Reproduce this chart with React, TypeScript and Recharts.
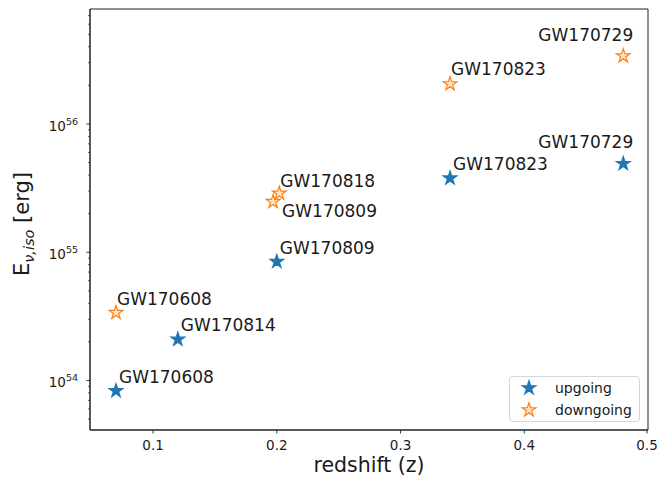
import React from 'react';
import { ScatterChart, Scatter, XAxis, YAxis, ReferenceArea } from 'recharts';

const FONT = '"DejaVu Sans", sans-serif';
const BLUE = '#1f77b4';
const ORANGE = '#ff7f0e';
const ORANGE_FILL = '#ffe3cc';

// upgoing events
const upgoingNames = ['GW170608', 'GW170814', 'GW170809', 'GW170823', 'GW170729'];
const upgoingZ = [0.07, 0.12, 0.2, 0.34, 0.48];
const upgoingE = [8.3e53, 2.09e54, 8.45e54, 3.78e55, 4.9e55];

// downgoing events
const downgoingNames = ['GW170608', 'GW170809', 'GW170818', 'GW170823', 'GW170729'];
const downgoingZ = [0.07, 0.197, 0.202, 0.34, 0.48];
const downgoingE = [3.38e54, 2.48e55, 2.88e55, 2.05e56, 3.39e56];

const xTicks = [0.1, 0.2, 0.3, 0.4, 0.5];
const yMajorTicks = [1e54, 1e55, 1e56];
const yMinorTicks = [
  5e53, 6e53, 7e53, 8e53, 9e53,
  2e54, 3e54, 4e54, 5e54, 6e54, 7e54, 8e54, 9e54,
  2e55, 3e55, 4e55, 5e55, 6e55, 7e55, 8e55, 9e55,
  2e56, 3e56, 4e56, 5e56, 6e56, 7e56,
];

const X_DOMAIN: [number, number] = [0.049, 0.5];
const Y_DOMAIN: [number, number] = [4.11e53, 7.88e56];

const upgoing = upgoingNames.map((name, i) => ({ name, z: upgoingZ[i], e: upgoingE[i] }));
const downgoing = downgoingNames.map((name, i) => ({ name, z: downgoingZ[i], e: downgoingE[i] }));

// annotation placement relative to the marker (baseline)
const labelLayout: Record<string, { dx: number; dy: number; anchor?: 'start' | 'end' }> = {
  'up-GW170729': { dx: 10, dy: -16, anchor: 'end' },
  'down-GW170729': { dx: 10, dy: -15, anchor: 'end' },
  'down-GW170809': { dx: 9, dy: 15 },
  'down-GW170818': { dx: 1, dy: -6 },
  'down-GW170823': { dx: 1, dy: -9 },
  'down-GW170608': { dx: 1, dy: -8 },
};

const starPoints = (cx: number, cy: number, r: number) => {
  const inner = r * 0.382;
  const pts: string[] = [];
  for (let i = 0; i < 10; i++) {
    const rr = i % 2 === 0 ? r : inner;
    const a = -Math.PI / 2 + (i * Math.PI) / 5;
    pts.push(`${(cx + rr * Math.cos(a)).toFixed(2)},${(cy + rr * Math.sin(a)).toFixed(2)}`);
  }
  return pts.join(' ');
};

const makeStar = (series: 'up' | 'down') => (props: any) => {
  const { cx, cy, payload } = props;
  const lay = labelLayout[`${series}-${payload.name}`] || { dx: 3, dy: -8 };
  return (
    <g>
      <polygon
        points={starPoints(cx, cy, 7.2)}
        fill={series === 'up' ? BLUE : ORANGE_FILL}
        stroke={series === 'up' ? BLUE : ORANGE}
        strokeWidth={1.2}
      />
      <text
        x={cx + lay.dx}
        y={cy + lay.dy}
        textAnchor={lay.anchor || 'start'}
        fontFamily={FONT}
        fontSize={17}
        fill="#1a1a1a"
      >
        {payload.name}
      </text>
    </g>
  );
};

const XTick = (props: any) => {
  const { x, y, payload } = props;
  return (
    <g>
      <line x1={x} x2={x} y1={y} y2={y + 3.5} stroke="#222" strokeWidth={0.9} />
      <text x={x} y={y + 20} textAnchor="middle" fontFamily={FONT} fontSize={13.5} fill="#1a1a1a">
        {payload.value}
      </text>
    </g>
  );
};

const YTick = (props: any) => {
  const { x, y, payload } = props;
  const v = payload.value;
  const isMajor = yMajorTicks.includes(v);
  if (!isMajor) {
    return <line x1={x - 2} x2={x} y1={y} y2={y} stroke="#222" strokeWidth={0.7} />;
  }
  const exp = Math.round(Math.log10(v));
  return (
    <g>
      <line x1={x - 3.5} x2={x} y1={y} y2={y} stroke="#222" strokeWidth={0.9} />
      <text x={x - 12} y={y + 7} textAnchor="end" fontFamily={FONT} fontSize={13.5} fill="#1a1a1a">
        10
        <tspan fontSize={9.5} dy={-6}>
          {exp}
        </tspan>
      </text>
    </g>
  );
};

const YLabel = () => (
  <text
    transform="translate(29,224) rotate(-90)"
    textAnchor="middle"
    fontFamily={FONT}
    fontSize={21}
    fill="#1a1a1a"
  >
    E
    <tspan fontSize={14.5} dy={5} fontStyle="italic">
      ν,iso
    </tspan>
    <tspan dy={-5}> [erg]</tspan>
  </text>
);

const XLabel = () => (
  <text x={369} y={472} textAnchor="middle" fontFamily={FONT} fontSize={20.5} fill="#1a1a1a">
    redshift (z)
  </text>
);

const LegendBox = () => (
  <div
    style={{
      position: 'absolute',
      left: 509,
      top: 376,
      width: 131,
      height: 46,
      border: '1px solid #d6d6d6',
      borderRadius: 4,
      background: 'rgba(255,255,255,0.8)',
      boxSizing: 'border-box',
    }}
  >
    <svg width={131} height={46} style={{ position: 'absolute', left: -1, top: -1 }}>
      <polygon points={starPoints(20, 12, 7.2)} fill={BLUE} stroke={BLUE} strokeWidth={1.2} />
      <polygon points={starPoints(20, 34, 7.2)} fill={ORANGE_FILL} stroke={ORANGE} strokeWidth={1.2} />
      <text x={46} y={17} fontFamily={FONT} fontSize={14} fill="#1a1a1a">upgoing</text>
      <text x={46} y={39} fontFamily={FONT} fontSize={14} fill="#1a1a1a">downgoing</text>
    </svg>
  </div>
);

export default function App() {
  return (
    <div style={{ position: 'absolute', left: 0, top: 0, width: 657, height: 482, background: '#fff' }}>
      <ScatterChart width={657} height={482} margin={{ top: 9, right: 9, bottom: 0, left: 0 }}>
        <XAxis
          type="number"
          dataKey="z"
          domain={X_DOMAIN}
          ticks={xTicks}
          allowDataOverflow
          height={52}
          tickSize={0}
          tickMargin={0}
          tickLine={false}
          tick={<XTick />}
          stroke="#222"
          label={<XLabel />}
        />
        <YAxis
          type="number"
          dataKey="e"
          scale="log"
          domain={Y_DOMAIN}
          ticks={[...yMinorTicks, ...yMajorTicks]}
          allowDataOverflow
          width={90}
          tickSize={0}
          tickMargin={0}
          tickLine={false}
          tick={<YTick />}
          interval={0}
          stroke="#222"
          label={<YLabel />}
        />
        <ReferenceArea
          x1={X_DOMAIN[0]}
          x2={X_DOMAIN[1]}
          y1={Y_DOMAIN[0]}
          y2={Y_DOMAIN[1]}
          fill="none"
          fillOpacity={0}
          stroke="#222"
          strokeWidth={1}
          ifOverflow="visible"
        />
        <Scatter name="upgoing" data={upgoing} shape={makeStar('up')} isAnimationActive={false} />
        <Scatter name="downgoing" data={downgoing} shape={makeStar('down')} isAnimationActive={false} />
      </ScatterChart>
      <LegendBox />
    </div>
  );
}
